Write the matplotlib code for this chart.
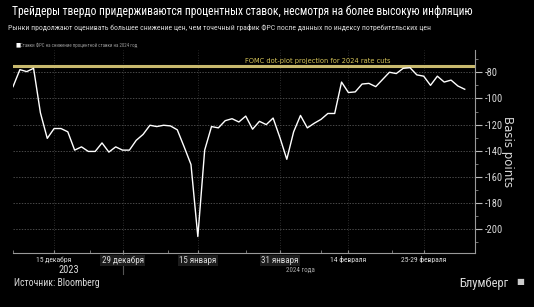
import numpy as np
import pandas as pd
import matplotlib
matplotlib.use("Agg")
import matplotlib.pyplot as plt

# weekday series, 7 Dec 2023 .. 8 Mar 2024
dates = pd.bdate_range("2023-12-07", "2024-03-08")
cuts = [-91, -78, -79.5, -77, -111, -130.5, -123, -123, -125.5, -139.5,
        -137, -140.5, -140.5, -134, -141, -137, -139.5, -139.5, -132, -127.5,
        -120.5, -121.5, -120.5, -121, -124, -137, -150.5, -205.5, -139.5, -121.5,
        -122.5, -117, -115.5, -118, -113.5, -123.5, -117.5, -120, -115, -130,
        -146.5, -125.5, -113, -122.5, -119, -116, -111.5, -111.5, -87.5, -95.5,
        -95, -89, -88.5, -91, -85.5, -80, -81, -77, -76.5, -82,
        -83, -90, -83, -87.5, -86, -90.5, -93]
dot_plot = -75
tick_dates = ["2023-12-15", "2023-12-29", "2024-01-15", "2024-01-31", "2024-02-14", "2024-02-29"]
tick_labels = ["15 декабря", "29 декабря", "15 января", "31 января", "14 февраля", "25-29 февраля"]
y_ticks = [-80, -100, -120, -140, -160, -180, -200]

W, H = 534, 307
bg = "black"
fg = "#d9d9d9"
plt.rcParams['font.family'] = ['Roboto Condensed', 'Roboto', 'DejaVu Sans']

fig = plt.figure(figsize=(W / 100, H / 100), dpi=100, facecolor=bg)
ax = fig.add_axes([12.7 / W, 1 - 253 / H, (475 - 12.7) / W, (253 - 50) / H], facecolor=bg)

x = np.arange(len(cuts))
ax.plot(x, cuts, color="white", lw=1.0, zorder=3)
ax.axhline(dot_plot, color="#c8b96e", lw=2.2, zorder=2)
ax.text(44.5, dot_plot + 1.5, "FOMC dot-plot projection for 2024 rate cuts",
        color="#d8c65a", fontsize=4.8, ha="center", va="bottom", family="DejaVu Sans")

ax.set_xlim(-0.05, 67.5)
ax.set_ylim(-218.1, -63)

pos = [dates.get_loc(pd.Timestamp(d)) for d in tick_dates]
ax.set_xticks(pos)
ax.set_xticklabels([])
ax.set_xticks([0, 11.3, 22.6, 34, 45, 55.4], minor=True)
ax.tick_params(axis="x", which="both", length=2, color="#888888", direction="in")
for p, lab in zip(pos, tick_labels):
    fs = 5.5 if lab in ("15 декабря", "14 февраля", "25-29 февраля") else 6.5
    box = dict(boxstyle="square,pad=0.15", fc="#1c1c1c", ec="none") if fs > 6 else None
    ax.text(p, -220.5, lab, color=fg, fontsize=fs, ha="center", va="top", bbox=box)

ax.yaxis.tick_right()
ax.set_yticks(y_ticks)
ax.set_yticklabels([str(v) for v in y_ticks])
ax.set_yticks(np.arange(-210, -65, 10), minor=True)
ax.tick_params(axis="y", which="major", length=5, color="#bbbbbb", labelcolor=fg,
               labelsize=7.5, pad=2)
ax.tick_params(axis="y", which="minor", length=2, color="#888888")
ax.yaxis.set_label_position("right")
ax.set_ylabel("Basis points", color=fg, fontsize=8.5, rotation=270, labelpad=8,
              family="DejaVu Sans")

ax.grid(axis="y", color="#666666", lw=0.5, ls=(0, (2, 2)))
ax.grid(axis="x", color="#3a3a3a", lw=0.6, ls=(0, (1, 2)))
for s in ("top", "left"):
    ax.spines[s].set_visible(False)
ax.spines["right"].set_color("#999999")
ax.spines["right"].set_linewidth(0.8)
ax.spines["bottom"].set_color("#999999")
ax.spines["bottom"].set_linewidth(0.8)

# year separator and year labels
ax.plot([pos[1], pos[1]], [-218.1, -234], color="#555555", lw=0.8, clip_on=False)
fig.text(69 / W, 1 - 270 / H, "2023", color=fg, fontsize=7.5, ha="center", va="center")
fig.text(300 / W, 1 - 270 / H, "2024 года", color="#aaaaaa", fontsize=5, ha="center", va="center")

fig.text(12 / W, 1 - 12 / H, "Трейдеры твердо придерживаются процентных ставок, несмотря на более высокую инфляцию",
         color="white", fontsize=8.3, ha="left", va="center")
fig.text(8 / W, 1 - 27 / H, "Рынки продолжают оценивать большее снижение цен, чем точечный график ФРС после данных по индексу потребительских цен",
         color=fg, fontsize=5.6, ha="left", va="center")
fig.text(16 / W, 1 - 45 / H, "■", color="white", fontsize=4, ha="left", va="center")
fig.text(20 / W, 1 - 45 / H, "Ставки ФРС на снижение процентной ставки на 2024 год",
         color="#999999", fontsize=3.5, ha="left", va="center")

fig.text(14 / W, 1 - 283 / H, "Источник: Bloomberg", color=fg, fontsize=7, ha="left", va="center")
fig.text(508 / W, 1 - 283 / H, "Блумберг", color=fg, fontsize=9, ha="right", va="center")
fig.text(520 / W, 1 - 282 / H, "■", color="#cccccc", fontsize=6, ha="center", va="center")

fig.savefig("out.png", dpi=100, facecolor=bg)
